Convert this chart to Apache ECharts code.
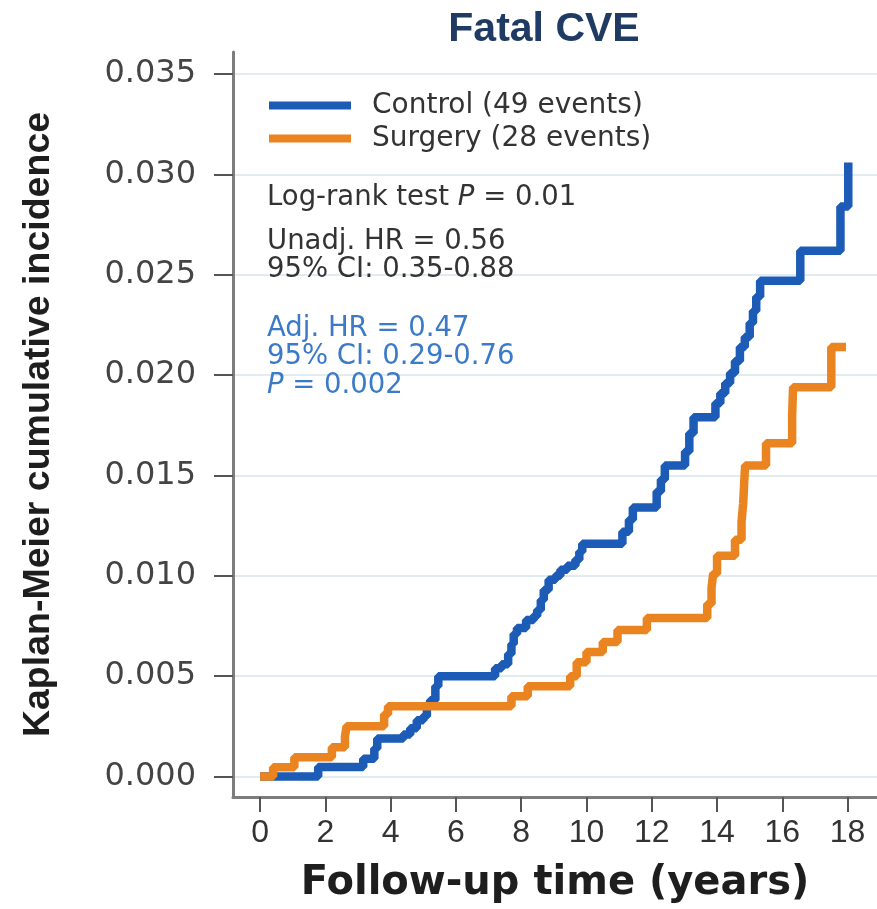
<!DOCTYPE html>
<html>
<head>
<meta charset="utf-8">
<script src="https://cdn.jsdelivr.net/npm/echarts@6/dist/echarts.min.js"></script>
<style>
html,body{margin:0;padding:0;background:#fff;}
#chart{width:877px;height:909px;}
</style>
</head>
<body>
<div id="chart"></div>
<script>
// ---- Data ----
const seriesNames = ['Control (49 events)', 'Surgery (28 events)'];

const controlTimes = [0, 1.78, 3.16, 3.5, 3.59, 4.39, 4.6, 4.8, 5.0, 5.11, 5.21, 5.37, 5.46,
  7.2, 7.4, 7.6, 7.7, 7.77, 7.87, 8.15, 8.38, 8.49, 8.6, 8.69, 8.84, 9.05, 9.2, 9.41, 9.66, 9.78, 9.87,
  11.1, 11.3, 11.42, 12.15, 12.28, 12.4, 13.02, 13.15, 13.28, 13.95, 14.1, 14.25, 14.4, 14.55, 14.7,
  14.85, 15.0, 15.1, 15.2, 15.32, 16.55, 17.78, 18.02];
const controlValues = [0, 0.00047, 0.00088, 0.0014, 0.0019, 0.0021, 0.0024, 0.0028, 0.0030, 0.0035, 0.0038, 0.0045, 0.0050,
  0.0054, 0.0056, 0.0061, 0.0066, 0.0071, 0.0074, 0.0078, 0.0080, 0.0083, 0.0088, 0.0093, 0.0098, 0.0100, 0.0103, 0.0105, 0.0108, 0.0112, 0.0116,
  0.0122, 0.0128, 0.0134, 0.0142, 0.0148, 0.0155, 0.0162, 0.0171, 0.0179, 0.0186, 0.0191, 0.0196, 0.0201, 0.0207, 0.0214,
  0.0219, 0.0226, 0.0232, 0.0239, 0.0247, 0.0262, 0.0284, 0.0306];

const surgeryTimes = [0, 0.4, 1.05, 2.2, 2.6, 2.65, 3.8, 3.92, 7.7, 8.2, 9.5, 9.7, 10.0, 10.5, 10.95, 11.85,
  13.7, 13.83, 13.88, 14.0, 14.55, 14.75, 14.8, 14.83, 14.86, 15.5, 16.3, 16.33, 17.5, 17.95];
const surgeryValues = [0, 0.00046, 0.00096, 0.00146, 0.0020, 0.0025, 0.0031, 0.0035, 0.0040, 0.0045, 0.0050, 0.0057, 0.0062, 0.0067, 0.0073, 0.0079,
  0.0086, 0.0094, 0.0101, 0.0110, 0.0118, 0.0127, 0.0136, 0.0146, 0.0155, 0.0166, 0.0180, 0.0194, 0.0214, 0.0214];

const xTicks = [0, 2, 4, 6, 8, 10, 12, 14, 16, 18];
const yTicks = [0, 0.005, 0.010, 0.015, 0.020, 0.025, 0.030, 0.035];

const annotationLines = [
  'Log-rank test {i|P} = 0.01',
  'Unadj. HR = 0.56',
  '95% CI: 0.35-0.88'
];
const adjustedLines = [
  'Adj. HR = 0.47',
  '95% CI: 0.29-0.76',
  '{i|P} = 0.002'
];

// ---- Styles ----
const BLUE = '#1c5cb6';
const ORANGE = '#e98420';
const TEXTBLUE = '#3b7ac8';
const AXIS = '#7d7d7d';

function zip(a, b) { return a.map((t, i) => [t, b[i]]); }

function annot(text, y, color) {
  return {
    type: 'text', x: 267, y: y, z: 10,
    style: {
      text: text, fill: color, fontSize: 27.5, fontFamily: 'DejaVu Sans',
      verticalAlign: 'middle', align: 'left',
      rich: { i: { fontStyle: 'italic', fontSize: 27.5, fontFamily: 'DejaVu Sans', fill: color } }
    }
  };
}

const chart = echarts.init(document.getElementById('chart'));
chart.setOption({
  animation: false,
  backgroundColor: '#fff',
  title: {
    text: 'Fatal CVE', left: 539, top: 4, textAlign: 'center',
    textStyle: { fontSize: 41, fontWeight: 'bold', color: '#1f3b63', fontFamily: 'Liberation Sans' }
  },
  legend: {
    orient: 'vertical', left: 264, top: 86, itemWidth: 82, itemHeight: 8, itemGap: 4,
    icon: 'rect', selectedMode: false,
    data: seriesNames,
    textStyle: { fontSize: 28, color: '#333', fontFamily: 'DejaVu Sans', lineHeight: 29, padding: [0, 0, 0, 16] }
  },
  grid: { left: 233, right: 0, top: 52, bottom: 112 },
  xAxis: {
    type: 'value', min: -0.83, max: 18.9,
    name: 'Follow-up time (years)', nameLocation: 'middle', nameGap: 67,
    nameTextStyle: { fontSize: 40, fontWeight: 'bold', fontFamily: 'DejaVu Sans', color: '#1e1e1e' },
    axisLine: { show: true, onZero: false, lineStyle: { color: AXIS, width: 3 } },
    axisTick: { show: true, customValues: xTicks, length: 15, lineStyle: { color: '#555', width: 2 } },
    axisLabel: { customValues: xTicks, margin: 20, fontSize: 32, color: '#333', fontFamily: 'Liberation Sans' },
    splitLine: { show: false }
  },
  yAxis: {
    type: 'value', min: -0.00102, max: 0.0361,
    name: 'Kaplan-Meier cumulative incidence', nameLocation: 'middle', nameGap: 175, nameRotate: 90,
    nameTextStyle: { fontSize: 37.5, fontWeight: 'bold', fontFamily: 'Liberation Sans', color: '#1e1e1e' },
    axisLine: { show: true, onZero: false, lineStyle: { color: AXIS, width: 3 } },
    axisTick: { show: true, customValues: yTicks, length: 19, lineStyle: { color: '#555', width: 2 } },
    axisLabel: { customValues: yTicks, margin: 37, fontSize: 32, color: '#444', fontFamily: 'DejaVu Sans',
      formatter: v => v.toFixed(3) },
    splitLine: { show: true, lineStyle: { color: '#e1ecf0', width: 2 } }
  },
  series: [
    {
      name: seriesNames[0], type: 'line', step: 'end', symbol: 'none', z: 2,
      data: zip(controlTimes, controlValues),
      lineStyle: { width: 8.5, color: BLUE }, itemStyle: { color: BLUE }
    },
    {
      name: seriesNames[1], type: 'line', step: 'end', symbol: 'none', z: 3,
      data: zip(surgeryTimes, surgeryValues),
      lineStyle: { width: 8.5, color: ORANGE }, itemStyle: { color: ORANGE }
    }
  ],
  graphic: [
    annot(annotationLines[0], 198, '#333'),
    annot(annotationLines[1], 242, '#333'),
    annot(annotationLines[2], 270, '#333'),
    annot(adjustedLines[0], 329, TEXTBLUE),
    annot(adjustedLines[1], 357, TEXTBLUE),
    annot(adjustedLines[2], 386, TEXTBLUE)
  ]
});
</script>
</body>
</html>
